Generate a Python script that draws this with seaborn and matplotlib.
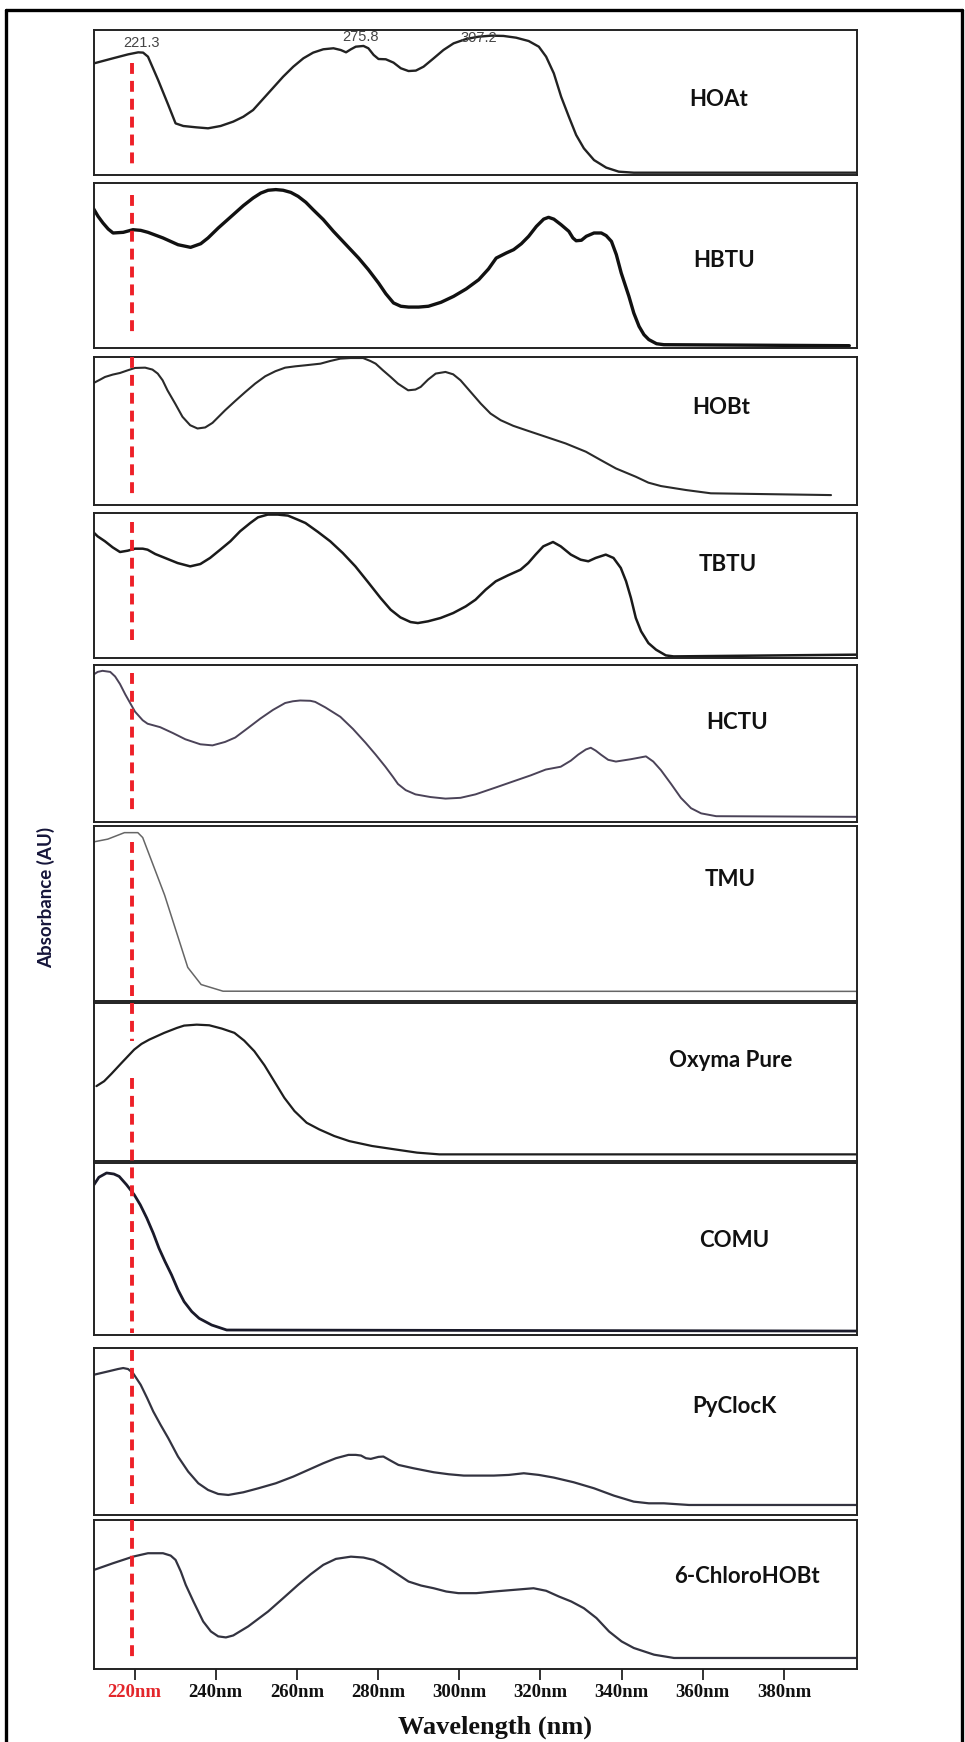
import matplotlib
matplotlib.use("Agg")
import matplotlib.pyplot as plt
import seaborn as sns
from matplotlib.lines import Line2D

sns.set_theme(style="white")
plt.rcParams['font.family'] = ['Lato', 'DejaVu Sans']

# ---------------- data (normalised absorbance per panel) ----------------
names = ["HOAt", "HBTU", "HOBt", "TBTU", "HCTU", "TMU",
         "Oxyma Pure", "COMU", "PyClocK", "6-ChloroHOBt"]

hoat_nm = [210.0, 214.7, 218.4, 220.9, 222.1, 223.3, 225.8, 228.3, 230.1, 232.0, 235.1, 238.1,
           241.2, 244.3, 246.8, 249.2, 252.9, 256.6, 259.1, 261.6, 264.0, 266.5, 269.0, 270.8,
           272.1, 273.3, 274.5, 276.4, 277.6, 278.9, 280.1, 281.9, 283.8, 285.6, 287.5, 289.3,
           291.2, 293.7, 296.1, 298.6, 301.7, 304.8, 307.9, 310.9, 314.0, 317.1, 319.6, 321.4,
           323.3, 325.1, 327.0, 328.8, 330.7, 333.2, 336.2, 339.3, 343.0, 398.0]
hoat_abs = [0.770, 0.805, 0.832, 0.846, 0.844, 0.816, 0.655, 0.483, 0.356, 0.338, 0.329, 0.322,
            0.338, 0.368, 0.402, 0.448, 0.563, 0.678, 0.747, 0.805, 0.844, 0.867, 0.874, 0.862,
            0.846, 0.867, 0.885, 0.890, 0.874, 0.828, 0.800, 0.798, 0.775, 0.736, 0.717, 0.720,
            0.747, 0.805, 0.862, 0.908, 0.938, 0.954, 0.961, 0.959, 0.947, 0.924, 0.885, 0.816,
            0.701, 0.540, 0.402, 0.276, 0.184, 0.103, 0.051, 0.023, 0.016, 0.016]

hbtu_nm = [209.8, 211.0, 212.2, 213.5, 214.7, 217.2, 219.6, 221.5, 223.3, 227.0, 230.7, 233.8,
           236.3, 238.1, 240.6, 244.3, 246.8, 249.2, 251.1, 252.9, 254.8, 256.6, 258.5, 260.3,
           262.2, 264.0, 266.5, 269.0, 272.1, 275.2, 277.6, 280.1, 281.9, 283.8, 285.6, 287.5,
           290.0, 292.4, 295.5, 298.6, 301.7, 304.8, 307.2, 309.1, 311.6, 313.4, 315.3, 317.1,
           319.0, 320.8, 322.0, 323.3, 325.1, 327.0, 328.0, 328.8, 330.1, 331.3, 333.2, 335.0,
           336.2, 337.5, 338.7, 339.9, 341.8, 343.0, 344.3, 345.5, 346.7, 348.6, 350.4, 396.1]
hbtu_abs = [0.848, 0.798, 0.758, 0.721, 0.697, 0.701, 0.717, 0.713, 0.701, 0.667, 0.626, 0.610,
            0.632, 0.667, 0.727, 0.808, 0.863, 0.909, 0.939, 0.956, 0.960, 0.956, 0.943, 0.919,
            0.883, 0.838, 0.778, 0.707, 0.626, 0.545, 0.475, 0.394, 0.329, 0.273, 0.253, 0.248,
            0.248, 0.253, 0.277, 0.313, 0.358, 0.414, 0.479, 0.545, 0.576, 0.596, 0.632, 0.677,
            0.737, 0.781, 0.792, 0.781, 0.747, 0.707, 0.667, 0.650, 0.653, 0.677, 0.697, 0.697,
            0.681, 0.646, 0.566, 0.455, 0.313, 0.212, 0.131, 0.081, 0.051, 0.026, 0.020, 0.014]

hobt_nm = [209.6, 211.5, 212.7, 214.6, 216.4, 218.3, 220.1, 222.6, 224.4, 225.7, 226.9, 228.1,
           230.0, 231.8, 233.7, 235.5, 237.4, 239.2, 242.3, 244.8, 247.3, 249.7, 252.2, 254.7,
           257.1, 259.6, 262.1, 265.8, 268.2, 270.7, 273.2, 276.3, 278.1, 279.4, 281.2, 283.1,
           284.9, 287.4, 289.2, 290.5, 292.3, 294.2, 296.6, 298.5, 300.3, 302.8, 305.3, 307.7,
           310.2, 313.3, 316.4, 321.3, 326.2, 331.2, 334.9, 338.6, 343.5, 346.6, 349.7, 355.9,
           362.0, 374.4, 391.6]
hobt_abs = [0.820, 0.847, 0.865, 0.881, 0.892, 0.910, 0.926, 0.928, 0.915, 0.888, 0.843, 0.775,
            0.685, 0.596, 0.539, 0.517, 0.524, 0.555, 0.640, 0.703, 0.764, 0.820, 0.870, 0.904,
            0.928, 0.937, 0.944, 0.955, 0.973, 0.989, 0.993, 0.993, 0.973, 0.955, 0.910, 0.865,
            0.820, 0.775, 0.780, 0.798, 0.847, 0.888, 0.899, 0.883, 0.843, 0.764, 0.685, 0.618,
            0.573, 0.535, 0.506, 0.461, 0.416, 0.360, 0.303, 0.247, 0.191, 0.151, 0.128, 0.101,
            0.079, 0.074, 0.067]

tbtu_nm = [209.6, 210.9, 212.7, 214.6, 216.4, 218.3, 220.1, 222.0, 223.2, 225.1, 227.5, 230.6,
           233.7, 236.2, 238.6, 241.1, 243.6, 246.0, 248.5, 250.4, 252.8, 255.3, 257.8, 260.2,
           262.1, 265.2, 268.2, 271.3, 274.4, 277.5, 280.6, 283.1, 285.5, 288.0, 289.8, 292.3,
           295.4, 298.5, 301.6, 304.0, 306.5, 309.0, 312.0, 315.1, 317.0, 318.8, 320.7, 323.1,
           325.0, 327.5, 329.9, 331.8, 333.6, 336.1, 338.0, 339.8, 341.1, 342.3, 343.5, 344.8,
           346.6, 348.5, 350.9, 352.8, 397.8]
tbtu_abs = [0.874, 0.839, 0.805, 0.763, 0.731, 0.740, 0.754, 0.754, 0.747, 0.717, 0.690, 0.655,
            0.632, 0.648, 0.690, 0.747, 0.805, 0.874, 0.931, 0.970, 0.989, 0.989, 0.982, 0.954,
            0.931, 0.869, 0.805, 0.724, 0.632, 0.524, 0.414, 0.333, 0.280, 0.248, 0.241, 0.253,
            0.276, 0.310, 0.356, 0.402, 0.471, 0.529, 0.570, 0.609, 0.655, 0.713, 0.770, 0.800,
            0.770, 0.713, 0.678, 0.667, 0.690, 0.713, 0.690, 0.621, 0.529, 0.414, 0.276, 0.184,
            0.103, 0.057, 0.018, 0.011, 0.023]

hctu_nm = [209.6, 210.9, 212.1, 214.0, 215.2, 216.4, 217.7, 218.9, 220.1, 222.0, 223.2, 226.3,
           229.4, 232.5, 236.2, 239.2, 242.3, 244.8, 247.9, 251.0, 254.1, 257.1, 259.0, 260.8,
           263.3, 264.5, 267.0, 270.7, 273.8, 276.9, 279.4, 281.8, 283.7, 284.9, 286.8, 289.2,
           292.9, 296.6, 300.3, 304.0, 309.0, 313.9, 317.6, 321.3, 325.0, 327.5, 329.3, 331.2,
           332.4, 333.6, 334.9, 336.7, 338.6, 342.3, 346.0, 347.8, 349.7, 352.2, 354.6, 357.1,
           359.6, 363.3, 397.8]
hctu_abs = [0.934, 0.956, 0.963, 0.956, 0.927, 0.879, 0.813, 0.758, 0.703, 0.648, 0.626, 0.604,
            0.567, 0.527, 0.495, 0.488, 0.510, 0.538, 0.598, 0.659, 0.714, 0.758, 0.769, 0.774,
            0.772, 0.765, 0.730, 0.670, 0.593, 0.505, 0.429, 0.352, 0.286, 0.242, 0.203, 0.176,
            0.159, 0.149, 0.154, 0.176, 0.220, 0.264, 0.297, 0.334, 0.352, 0.391, 0.429, 0.462,
            0.473, 0.455, 0.429, 0.396, 0.385, 0.400, 0.418, 0.385, 0.330, 0.242, 0.154, 0.088,
            0.055, 0.037, 0.033]

tmu_nm = [210.1, 213.4, 217.5, 220.8, 222.0, 227.4, 233.1, 236.4, 241.8, 398.0]
tmu_abs = [0.910, 0.925, 0.962, 0.962, 0.934, 0.605, 0.192, 0.094, 0.056, 0.055]

oxyma_nm = [210.6, 212.5, 214.3, 216.8, 219.9, 221.7, 223.6, 227.3, 230.4, 232.2, 235.3, 238.4,
            241.5, 244.6, 247.0, 249.5, 252.0, 254.4, 256.9, 259.4, 262.4, 265.5, 269.2, 272.9,
            278.5, 284.0, 289.6, 295.1, 398.0]
oxyma_abs = [0.474, 0.505, 0.552, 0.621, 0.705, 0.741, 0.768, 0.811, 0.842, 0.857, 0.863, 0.859,
             0.838, 0.811, 0.762, 0.695, 0.606, 0.505, 0.400, 0.316, 0.242, 0.200, 0.158, 0.126,
             0.095, 0.074, 0.053, 0.042, 0.042]

comu_nm = [210.0, 211.2, 213.1, 214.9, 216.2, 218.0, 219.9, 221.4, 223.0, 224.6, 226.0, 227.5,
           229.1, 230.7, 232.2, 234.1, 235.9, 239.0, 242.7, 398.0]
comu_abs = [0.874, 0.917, 0.942, 0.936, 0.922, 0.874, 0.816, 0.757, 0.680, 0.592, 0.505, 0.427,
            0.350, 0.262, 0.194, 0.136, 0.097, 0.058, 0.029, 0.023]

pyclock_nm = [210.0, 213.5, 215.9, 217.2, 218.4, 219.6, 221.5, 223.1, 224.6, 226.4, 228.3, 230.7,
              233.2, 235.7, 238.1, 240.6, 243.1, 246.8, 250.5, 254.8, 259.1, 262.8, 266.5, 269.6,
              272.7, 274.5, 275.8, 277.0, 278.2, 280.1, 281.3, 283.2, 285.0, 288.7, 293.7, 297.4,
              301.1, 308.5, 312.2, 315.9, 319.6, 323.3, 328.2, 333.2, 338.1, 343.0, 346.7, 350.4,
              356.6, 398.0]
pyclock_abs = [0.840, 0.860, 0.874, 0.880, 0.874, 0.850, 0.780, 0.700, 0.620, 0.540, 0.460, 0.350,
               0.260, 0.190, 0.150, 0.126, 0.120, 0.136, 0.160, 0.190, 0.230, 0.270, 0.310, 0.340,
               0.360, 0.360, 0.356, 0.340, 0.336, 0.348, 0.350, 0.324, 0.300, 0.280, 0.256, 0.244,
               0.236, 0.236, 0.240, 0.250, 0.240, 0.224, 0.196, 0.160, 0.116, 0.080, 0.070, 0.070,
               0.060, 0.060]

chloro_nm = [210.0, 214.7, 219.6, 221.5, 223.3, 227.0, 228.9, 230.1, 231.4, 232.6, 234.5, 236.9,
             238.8, 240.6, 242.5, 244.3, 248.0, 252.9, 256.6, 260.3, 263.4, 266.5, 269.6, 273.3,
             276.4, 278.9, 281.3, 284.4, 287.5, 290.6, 293.7, 296.8, 299.8, 304.2, 308.5, 313.4,
             318.3, 321.4, 324.5, 327.6, 330.7, 333.8, 336.9, 340.0, 343.0, 348.0, 352.9, 398.0]
chloro_abs = [0.665, 0.710, 0.754, 0.766, 0.777, 0.777, 0.761, 0.732, 0.654, 0.565, 0.453, 0.319,
              0.252, 0.219, 0.212, 0.225, 0.286, 0.386, 0.475, 0.565, 0.636, 0.699, 0.739, 0.754,
              0.748, 0.732, 0.699, 0.643, 0.587, 0.560, 0.542, 0.520, 0.509, 0.509, 0.520, 0.531,
              0.542, 0.525, 0.487, 0.453, 0.408, 0.342, 0.252, 0.185, 0.141, 0.096, 0.074, 0.074]

series_nm = [hoat_nm, hbtu_nm, hobt_nm, tbtu_nm, hctu_nm, tmu_nm, oxyma_nm, comu_nm, pyclock_nm, chloro_nm]
series_abs = [hoat_abs, hbtu_abs, hobt_abs, tbtu_abs, hctu_abs, tmu_abs, oxyma_abs, comu_abs, pyclock_abs, chloro_abs]

peak_values = [221.3, 275.8, 307.2]
peak_label_x = [221.6, 275.6, 304.9]
peak_label_y = [0.912, 0.950, 0.943]

tick_nm = [220, 240, 260, 280, 300, 320, 340, 360, 380]
tick_labels = [f"{t}nm" for t in tick_nm]

marker_nm = 219.3

# ---------------- layout & styles ----------------
W, H = 965, 1742
fig = plt.figure(figsize=(W / 100, H / 100), dpi=100)
fig.patch.set_facecolor("white")

left_px, right_px = 94, 857
panel_rows = [(30, 175), (183, 348), (357, 505), (513, 658), (665, 822),
              (826, 1001), (1003, 1161), (1163, 1335), (1348, 1515), (1520, 1669)]
label_pos = [(0.819, 0.524), (0.826, 0.533), (0.822, 0.662), (0.830, 0.648), (0.843, 0.631),
             (0.834, 0.697), (0.834, 0.633), (0.839, 0.552), (0.840, 0.647), (0.856, 0.624)]
line_colors = ["#222222", "#111111", "#2a2a2a", "#1a1a1a", "#4b4358",
               "#666666", "#1e1e1e", "#1a1a2a", "#333340", "#333340"]
line_widths = [1.7, 2.4, 1.5, 1.8, 1.4, 1.1, 1.6, 2.0, 1.6, 1.6]

axes = []
for i, (top, bot) in enumerate(panel_rows):
    ax = fig.add_axes([left_px / W, 1 - bot / H, (right_px - left_px) / W, (bot - top) / H])
    sns.lineplot(x=series_nm[i], y=series_abs[i], ax=ax, color=line_colors[i],
                 lw=line_widths[i], estimator=None, sort=False,
                 solid_joinstyle="round", solid_capstyle="round")
    ax.set_xlim(210, 398)
    ax.set_ylim(0, 1)
    ax.set_yticks([])
    ax.set_xlabel("")
    ax.set_ylabel("")
    for sp in ax.spines.values():
        sp.set_color("#222222")
        sp.set_linewidth(1.4)
    ax.text(label_pos[i][0], label_pos[i][1], names[i], transform=ax.transAxes,
            ha="center", va="center", fontsize=16, fontweight="bold", color="#111111",
            family=["Lato", "DejaVu Sans"])
    if i < len(panel_rows) - 1:
        ax.set_xticks([])
    axes.append(ax)

# peak annotations on HOAt
for v, x, y in zip(peak_values, peak_label_x, peak_label_y):
    axes[0].text(x, y, f"{v}", transform=axes[0].get_xaxis_transform(), ha="center", va="center",
                 fontsize=10.5, color="#444444", family=["Liberation Sans", "DejaVu Sans"])

# bottom axis
axb = axes[-1]
axb.set_xticks(tick_nm)
axb.set_xticklabels(tick_labels)
axb.tick_params(axis="x", bottom=True, direction="out", length=8, width=1.3, color="#222222", pad=3)
for k, lab in enumerate(axb.get_xticklabels()):
    lab.set_fontfamily(["Liberation Serif", "DejaVu Serif"])
    lab.set_fontweight("bold")
    lab.set_fontsize(13.5)
    lab.set_color("#e3262b" if k == 0 else "#111111")

# red dashed 220 nm marker (overlay axes sharing the wavelength scale)
axr = fig.add_axes([left_px / W, 1 - 1669 / H, (right_px - left_px) / W, (1669 - 30) / H])
axr.set_xlim(210, 398)
axr.set_ylim(1669, 30)
axr.axis("off")
axr.patch.set_alpha(0)
seg_top = [63, 195, 357, 522, 673, 842, 1078, 1350, 1520]
seg_bot = [170, 337, 497, 640, 812, 1041, 1333, 1508, 1660]
for t, b in zip(seg_top, seg_bot):
    axr.plot([marker_nm, marker_nm], [t, b], color="#ee2028", lw=2.8,
             linestyle=(0, (2.8, 1.8)), dash_capstyle="butt")

# axis titles
fig.text(495 / W, 1 - 1727 / H, "Wavelength (nm)", ha="center", va="center", fontsize=19,
         fontweight="bold", family=["Liberation Serif", "DejaVu Serif"], color="#111111")
fig.text(46 / W, 1 - 897 / H, "Absorbance (AU)", ha="center", va="center", rotation=90,
         fontsize=13.5, fontweight="bold", family=["Lato", "DejaVu Sans"], color="#15153a")

# outer frame
fx0, fx1, fy_top = 6 / W, 962 / W, 1 - 10 / H
for xs, ys in [([fx0, fx0], [0, fy_top]), ([fx0, fx1], [fy_top, fy_top]), ([fx1, fx1], [0, fy_top])]:
    fig.add_artist(Line2D(xs, ys, transform=fig.transFigure, color="black", lw=2.4))

fig.savefig("out.png", dpi=100, facecolor="white")
